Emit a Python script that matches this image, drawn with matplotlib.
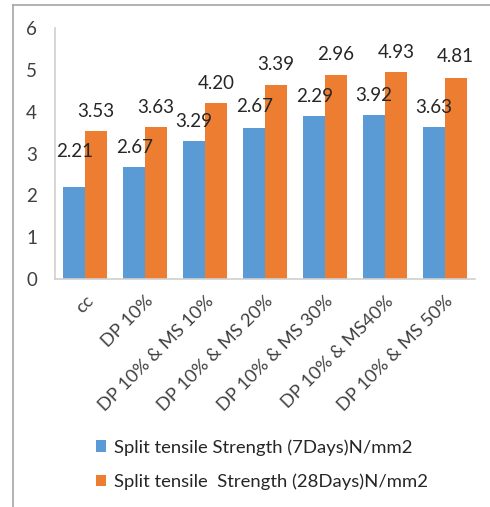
import matplotlib
matplotlib.use("Agg")
import matplotlib.pyplot as plt
from matplotlib.patches import Patch
from matplotlib.lines import Line2D
import numpy as np

# Mix designations
categories = ["cc", "DP 10%", "DP 10% & MS 10%", "DP 10% & MS 20%",
              "DP 10% & MS 30%", "DP 10% & MS40%", "DP 10% & MS 50%"]

# Split tensile strength, N/mm2
strength_7d = [2.21, 2.67, 3.29, 3.62, 3.89, 3.92, 3.63]
strength_28d = [3.53, 3.63, 4.20, 4.64, 4.87, 4.94, 4.81]

# Data-label texts as printed on the chart
labels_7d = ["2.21", "2.67", "3.29", "2.67", "2.29", "3.92", "3.63"]
labels_28d = ["3.53", "3.63", "4.20", "3.39", "2.96", "4.93", "4.81"]

series_names = ["Split tensile Strength (7Days)N/mm2",
                "Split tensile  Strength (28Days)N/mm2"]

yticks = [0, 1, 2, 3, 4, 5, 6]

BLUE = "#5B9BD5"
ORANGE = "#ED7D31"
TEXT = "#262626"
TICK = "#404040"
AXIS = "#D0D0D0"
FS = 13.5

plt.rcParams["font.family"] = ["Lato", "DejaVu Sans"]

W, H = 490, 507
fig = plt.figure(figsize=(W / 100, H / 100), dpi=100)
fig.patch.set_facecolor("white")

ax = fig.add_axes([55 / W, 1 - 279 / H, 420 / W, (279 - 28) / H])

x = np.arange(len(categories))
bw = 0.36
b1 = ax.bar(x - bw / 2, strength_7d, bw, color=BLUE, label=series_names[0])
b2 = ax.bar(x + bw / 2, strength_28d, bw, color=ORANGE, label=series_names[1])

# label offsets above bar tops (points)
off_7d = [25, 14, 14, 15, 14, 14, 14]
off_28d = [14, 14, 14, 15, 15, 14, 15]
for rect, txt, off in zip(b1, labels_7d, off_7d):
    ax.annotate(txt, (rect.get_x() + rect.get_width() / 2, rect.get_height()),
                xytext=(0, off), textcoords="offset points",
                ha="center", va="center", fontsize=FS, color=TEXT)
for rect, txt, off in zip(b2, labels_28d, off_28d):
    ax.annotate(txt, (rect.get_x() + rect.get_width() / 2, rect.get_height()),
                xytext=(0, off), textcoords="offset points",
                ha="center", va="center", fontsize=FS, color=TEXT)

ax.set_xlim(-0.5, len(categories) - 0.5)
ax.set_ylim(0, 6)
ax.set_yticks(yticks)
ax.set_yticklabels([str(v) for v in yticks], fontsize=FS, color=TICK)
ax.set_xticks(x)
ax.set_xticklabels(categories, rotation=45, ha="right", va="top",
                   rotation_mode="anchor", fontsize=13.2, color=TICK)
ax.tick_params(axis="both", length=0)
ax.tick_params(axis="y", pad=13)
ax.tick_params(axis="x", pad=10)

for s in ["top", "right"]:
    ax.spines[s].set_visible(False)
ax.spines["left"].set_color(AXIS)
ax.spines["bottom"].set_color(AXIS)
ax.spines["left"].set_linewidth(1.2)
ax.spines["bottom"].set_linewidth(1.2)

handles = [Patch(facecolor=BLUE, edgecolor="none"),
           Patch(facecolor=ORANGE, edgecolor="none")]
fig.legend(handles, series_names, loc="upper left",
           bbox_to_anchor=(96 / W, 1 - 439 / H), frameon=False,
           fontsize=13.3, handlelength=0.55, handleheight=0.55,
           handletextpad=0.45, labelspacing=0.95, borderpad=0,
           borderaxespad=0, labelcolor=TEXT)

# outer chart border (top and left edges)
fig.add_artist(Line2D([13 / W, 13 / W], [0, 1 - 5 / H],
                      transform=fig.transFigure, color="#A6A6A6", lw=1.2))
fig.add_artist(Line2D([13 / W, 1], [1 - 5 / H, 1 - 5 / H],
                      transform=fig.transFigure, color="#A6A6A6", lw=1.2))

fig.savefig("out.png", dpi=100)
